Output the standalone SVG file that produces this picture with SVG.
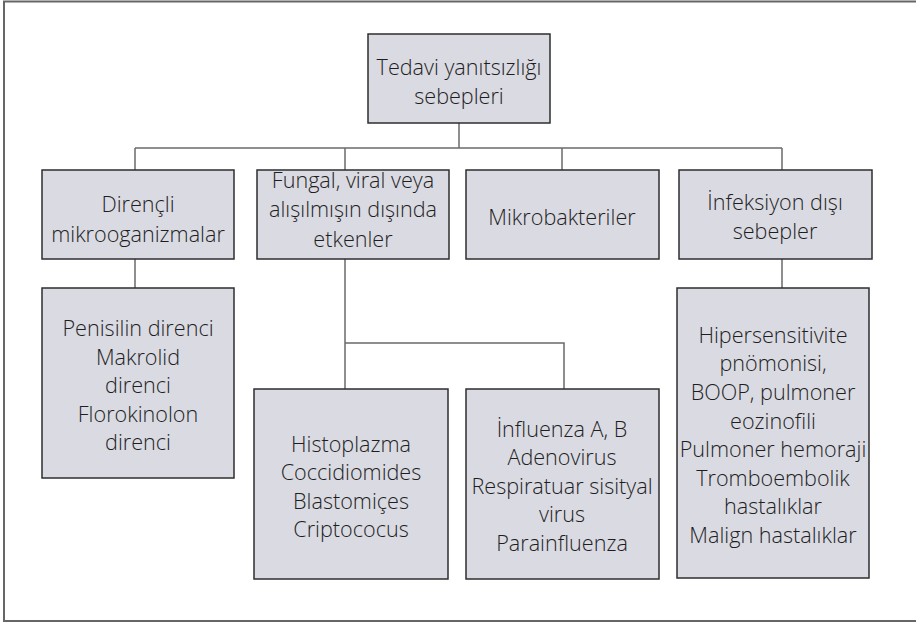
<svg xmlns="http://www.w3.org/2000/svg" width="916" height="622" viewBox="0 0 916 622">
  <style>
    .box { fill: #dadae2; stroke: #2e2e2e; stroke-width: 1.5; }
    .lbl { font-family: "Open Sans", "Noto Sans", "Liberation Sans", sans-serif; font-size: 21.6px; font-weight: 300; fill: #1e1e1e; text-anchor: middle; }
    .wire { fill: none; stroke: #6a6a6a; stroke-width: 1.5; }
    .frame { fill: none; stroke: #666; stroke-width: 2; }
  </style>
  <rect x="0" y="0" width="916" height="622" fill="#fff"/>
  <!-- outer frame (open on the right) -->
  <path class="frame" d="M916 1.5 H4 V621 H916"/>

  <g id="connectors">
    <path class="wire" d="M459 123 V148"/>
    <path class="wire" d="M135 148 H782"/>
    <path class="wire" d="M135 148 V170"/>
    <path class="wire" d="M345 148 V170"/>
    <path class="wire" d="M562 148 V170"/>
    <path class="wire" d="M782 148 V170"/>
    <path class="wire" d="M135 259 V288"/>
    <path class="wire" d="M345 259 V389"/>
    <path class="wire" d="M345 343 H564 V389"/>
    <path class="wire" d="M782 259 V288"/>
  </g>

  <g id="root">
    <rect class="box" x="368" y="34" width="182" height="89"/>
    <text class="lbl" x="459" y="75">Tedavi yanıtsızlığı</text>
    <text class="lbl" x="459" y="104">sebepleri</text>
  </g>

  <g id="direncli">
    <rect class="box" x="42" y="170" width="192" height="89"/>
    <text class="lbl" x="138" y="212">Dirençli</text>
    <text class="lbl" x="138" y="242">mikrooganizmalar</text>
  </g>

  <g id="fungal">
    <rect class="box" x="257" y="170" width="192" height="89"/>
    <text class="lbl" x="353" y="188">Fungal, viral veya</text>
    <text class="lbl" x="353" y="217">alışılmışın dışında</text>
    <text class="lbl" x="353" y="247">etkenler</text>
  </g>

  <g id="mikrobakteriler">
    <rect class="box" x="466" y="170" width="193" height="89"/>
    <text class="lbl" x="562" y="225">Mikrobakteriler</text>
  </g>

  <g id="infeksiyon">
    <rect class="box" x="679" y="170" width="193" height="89"/>
    <text class="lbl" x="775" y="210">İnfeksiyon dışı</text>
    <text class="lbl" x="775" y="239">sebepler</text>
  </g>

  <g id="direnc-listesi">
    <rect class="box" x="42" y="288" width="192" height="190"/>
    <text class="lbl" x="138" y="336">Penisilin direnci</text>
    <text class="lbl" x="138" y="365">Makrolid</text>
    <text class="lbl" x="138" y="393">direnci</text>
    <text class="lbl" x="138" y="422">Florokinolon</text>
    <text class="lbl" x="138" y="450">direnci</text>
  </g>

  <g id="mantarlar">
    <rect class="box" x="254" y="389" width="194" height="190"/>
    <text class="lbl" x="351" y="452">Histoplazma</text>
    <text class="lbl" x="351" y="480">Coccidiomides</text>
    <text class="lbl" x="351" y="509">Blastomiçes</text>
    <text class="lbl" x="351" y="537">Criptococus</text>
  </g>

  <g id="virusler">
    <rect class="box" x="466" y="389" width="193" height="190"/>
    <text class="lbl" x="562" y="437">İnfluenza A, B</text>
    <text class="lbl" x="562" y="465">Adenovirus</text>
    <text class="lbl" x="562" y="494">Respiratuar sisityal</text>
    <text class="lbl" x="562" y="522">virus</text>
    <text class="lbl" x="562" y="551">Parainfluenza</text>
  </g>

  <g id="infeksiyon-disi-listesi">
    <rect class="box" x="677" y="288" width="192" height="290"/>
    <text class="lbl" x="773" y="343">Hipersensitivite</text>
    <text class="lbl" x="773" y="371">pnömonisi,</text>
    <text class="lbl" x="773" y="400">BOOP, pulmoner</text>
    <text class="lbl" x="773" y="429">eozinofili</text>
    <text class="lbl" x="773" y="457">Pulmoner hemoraji</text>
    <text class="lbl" x="773" y="486">Tromboembolik</text>
    <text class="lbl" x="773" y="514">hastalıklar</text>
    <text class="lbl" x="773" y="543">Malign hastalıklar</text>
  </g>
</svg>
